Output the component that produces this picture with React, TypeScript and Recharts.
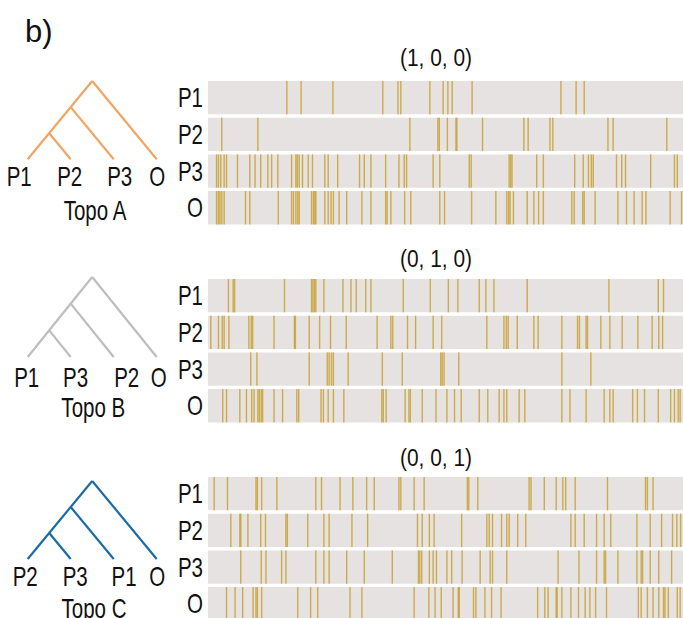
import { ScatterChart, Scatter, XAxis, YAxis, ReferenceArea } from "recharts"

const ROWS = ["P1", "P2", "P3", "O"]
const TITLES = ["(1, 0, 0)", "(0, 1, 0)", "(0, 0, 1)"]
const TOPO_NAMES = ["Topo A", "Topo B", "Topo C"]
const TOPO_LEAVES = [
  ["P1", "P2", "P3", "O"],
  ["P1", "P3", "P2", "O"],
  ["P2", "P3", "P1", "O"],
]
const TOPO_COLORS = ["#F4A462", "#BEBEBE", "#1A6CA7"]

/* ladder tree: leaves at x = 0..3, y = node depth */
const BRANCHES = [
  [{ x: 1.5, y: 1.5 }, { x: 0, y: 0 }],
  [{ x: 0.5, y: 0.5 }, { x: 1, y: 0 }],
  [{ x: 1, y: 1 }, { x: 2, y: 0 }],
  [{ x: 1.5, y: 1.5 }, { x: 3, y: 0 }],
]

/* site positions along the alignment (% of length) */
const A_P1 = [16.6, 19.6, 26.3, 36.8, 40.0, 40.6, 46.7, 49.5, 50.5, 51.4, 55.6, 74.3, 77.5, 79.2]
const A_P2 = [2.9, 10.5, 42.5, 48.4, 48.7, 50.4, 52.2, 52.4, 57.8, 66.5, 67.4, 72.0, 72.6, 84.2, 85.3, 96.6]
const A_P3 = [1.8, 2.2, 2.7, 3.4, 3.9, 6.2, 8.8, 9.9, 11.1, 12.6, 13.4, 14.7, 17.6, 18.5, 18.8, 19.2, 19.9, 21.1,
  22.0, 24.6, 25.3, 27.3, 31.9, 32.9, 34.3, 37.4, 40.2, 41.3, 41.8, 47.4, 48.8, 55.0, 55.4, 63.4, 63.7, 64.0,
  69.2, 70.6, 77.2, 79.0, 80.1, 80.7, 81.1, 86.0, 87.1, 87.9, 93.2, 98.2, 98.8]
const A_O = [1.8, 2.2, 2.5, 2.9, 3.4, 7.9, 8.8, 14.8, 17.6, 18.0, 18.5, 18.9, 19.2, 21.8, 22.2, 22.5, 22.7, 24.6,
  25.3, 25.9, 26.4, 27.6, 29.2, 32.4, 34.3, 37.4, 37.7, 38.5, 41.4, 42.7, 48.8, 49.8, 55.5, 60.6, 62.9, 63.3,
  63.6, 64.3, 67.2, 68.6, 69.6, 70.6, 76.6, 77.1, 78.9, 79.2, 81.5, 86.3, 88.1, 89.7, 91.4, 92.2, 97.3, 99.7]

const B_P1 = [4.3, 5.3, 5.6, 16.1, 21.8, 22.1, 22.4, 22.7, 24.4, 28.4, 30.1, 31.2, 33.2, 34.3, 41.1, 46.8, 50.6,
  52.6, 57.1, 58.5, 60.2, 67.2, 84.4, 94.8, 95.9]
const B_P2 = [0.6, 2.2, 3.0, 3.4, 4.4, 8.6, 9.1, 9.4, 13.9, 18.2, 18.4, 21.3, 23.5, 25.8, 29.1, 35.6, 38.5, 38.9,
  42.0, 43.7, 47.4, 49.2, 58.7, 62.3, 62.8, 63.2, 65.1, 68.6, 69.5, 74.5, 77.8, 78.2, 79.6, 79.9, 82.7, 84.6,
  87.2, 90.5, 93.5, 94.9, 95.7]
const B_P3 = [9.0, 10.3, 21.3, 25.1, 25.5, 26.0, 26.4, 29.5, 36.7, 40.9, 49.0, 49.3, 49.7, 52.8, 74.5, 80.6]
const B_O = [3.1, 3.9, 6.7, 8.1, 9.2, 9.7, 10.5, 10.8, 11.2, 11.5, 13.9, 15.7, 18.7, 19.1, 23.8, 24.3, 25.3, 26.4,
  28.6, 36.6, 36.9, 37.5, 41.5, 42.3, 42.6, 45.1, 48.0, 50.3, 51.9, 53.3, 57.1, 58.9, 61.3, 62.3, 62.9, 65.5,
  66.7, 74.5, 76.2, 79.6, 83.4, 84.6, 85.3, 89.4, 90.4, 91.9, 94.8, 97.4, 98.2, 99.0, 99.4]

const C_P1 = [1.3, 4.1, 10.1, 10.4, 11.3, 14.5, 22.7, 23.9, 27.8, 30.5, 33.4, 35.0, 40.2, 40.6, 43.4, 45.5, 54.6,
  54.9, 56.8, 67.6, 68.0, 70.8, 73.3, 74.7, 75.3, 77.3, 84.1, 92.1, 92.5, 93.7]
const C_P2 = [4.8, 6.7, 6.9, 8.4, 11.1, 12.1, 16.4, 16.7, 21.0, 24.4, 25.5, 30.3, 33.6, 44.1, 45.1, 46.6, 47.6,
  53.4, 58.7, 59.2, 59.9, 61.8, 62.9, 63.4, 65.2, 66.9, 76.4, 77.3, 79.2, 81.8, 83.4, 84.8, 90.3, 93.1, 95.5,
  97.8, 98.7, 99.5]
const C_P3 = [6.9, 11.2, 12.2, 15.5, 16.4, 22.7, 24.4, 25.5, 29.2, 32.9, 38.8, 44.3, 44.6, 45.0, 46.6, 47.4, 48.1,
  50.3, 51.3, 53.5, 57.3, 59.4, 59.9, 62.9, 73.7, 78.1, 81.8, 83.4, 83.7, 86.3, 90.3, 91.2, 91.5, 93.1, 94.9, 97.6]
const C_O = [3.9, 5.7, 7.3, 9.5, 10.1, 10.4, 11.3, 18.9, 21.6, 23.1, 29.9, 32.4, 43.4, 46.5, 47.8, 49.1, 51.6,
  52.7, 52.9, 55.9, 56.4, 58.3, 59.7, 61.7, 69.4, 70.9, 71.6, 73.3, 73.5, 74.5, 76.4, 78.0, 79.4, 80.4, 81.6,
  83.9, 90.6, 91.2, 92.5, 93.7, 94.9, 95.9, 96.2, 96.9, 98.8, 99.4]

const PANELS = [
  [A_P1, A_P2, A_P3, A_O],
  [B_P1, B_P2, B_P3, B_O],
  [C_P1, C_P2, C_P3, C_O],
]

/* layout */
const FONT = "'Liberation Sans', Arial, sans-serif"
const GAP = 0.092
const STRIP_TOP = [81, 279, 477]
const STRIP_PLOT_H = 146.8
const ROW_PX = (STRIP_PLOT_H / 4) * (1 - GAP)
const TREE_APEX = [81, 276.7, 481]
const TREE_H = [78.3, 80, 78]
const LEAF_DY = [27, 29.6, 27.3]
const LEAF_DX = [
  [-8.5, -1, 6, 0.6],
  [-1, 4.8, 13, 2],
  [-2.5, 4.5, 10.4, 0.6],
]
const TOPO_DY = [60.3, 59.6, 58.6]
const TOPO_DX = [2.8, 1.1, 1.8]
const TITLE_BASE = [66, 267, 465.5]

const rowCenter = (i: number) => 4 - i - (1 - GAP) / 2

function NarrowText({ x, y, anchor = "middle", children }: any) {
  return (
    <text transform={`translate(${x},${y}) scale(0.76,1)`} textAnchor={anchor}
      fontSize={27} fontFamily={FONT} fill="#111">
      {children}
    </text>
  )
}

function RowTick(props: any) {
  const i = Math.round(4 - (1 - GAP) / 2 - props.payload.value)
  return <NarrowText x={props.x} y={props.y + 9.6} anchor="end">{ROWS[i]}</NarrowText>
}

function SiteMark(props: any) {
  return (
    <rect x={props.cx - 0.7} y={props.cy - ROW_PX / 2} width={1.4} height={ROW_PX}
      fill="#C7A131" fillOpacity={0.85} />
  )
}

function Strips({ k }: { k: number }) {
  const rows = PANELS[k]
  return (
    <div style={{ position: "absolute", left: 160, top: STRIP_TOP[k] - 5 }}>
      <ScatterChart width={523} height={STRIP_PLOT_H + 10} margin={{ top: 5, right: 0, bottom: 5, left: 0 }}>
        <XAxis type="number" dataKey="x" domain={[0, 100]} hide />
        <YAxis type="number" dataKey="y" domain={[0, 4]} ticks={ROWS.map((_, i) => rowCenter(i))}
          interval={0} width={48} axisLine={false} tickLine={false} tickSize={0} tickMargin={5}
          tick={<RowTick />} />
        {ROWS.map((r, i) => (
          <ReferenceArea key={r} x1={0} x2={100} y1={3 - i + GAP} y2={4 - i}
            fill="#E7E2E2" fillOpacity={1} stroke="none" />
        ))}
        {rows.map((vals, i) => (
          <Scatter key={i} data={vals.map(v => ({ x: v, y: rowCenter(i) }))}
            shape={SiteMark} isAnimationActive={false} />
        ))}
      </ScatterChart>
    </div>
  )
}

function TopoLabel(props: any) {
  const k = props.k
  const vb = props.viewBox
  return (
    <NarrowText x={vb.x + vb.width / 2 + TOPO_DX[k]} y={vb.y + TOPO_DY[k]}>
      {TOPO_NAMES[k]}
    </NarrowText>
  )
}

function Tree({ k }: { k: number }) {
  const h = TREE_H[k]
  const LeafTick = (props: any) => {
    const i = Math.round(props.payload.value)
    return (
      <NarrowText x={props.x + LEAF_DX[k][i]} y={props.y + LEAF_DY[k]}>
        {TOPO_LEAVES[k][i]}
      </NarrowText>
    )
  }
  return (
    <div style={{ position: "absolute", left: 0, top: TREE_APEX[k] - 10 }}>
      <ScatterChart width={200} height={10 + h + 70}
        margin={{ top: 10, right: 200 - 27.7 - 129, bottom: 0, left: 27.7 }}>
        <XAxis type="number" dataKey="x" domain={[0, 3]} ticks={[0, 1, 2, 3]} interval={0}
          height={70} axisLine={false} tickLine={false} tickSize={0} tickMargin={0}
          tick={LeafTick} label={<TopoLabel k={k} />} />
        <YAxis type="number" dataKey="y" domain={[0, 1.5]} hide />
        {BRANCHES.map((b, i) => (
          <Scatter key={i} data={b} line={{ stroke: TOPO_COLORS[k], strokeWidth: 2.2 }}
            shape={() => <g />} isAnimationActive={false} />
        ))}
      </ScatterChart>
    </div>
  )
}

export default function App() {
  return (
    <div style={{ position: "absolute", left: 0, top: 0, width: 683, height: 618, overflow: "hidden", background: "#fff" }}>
      <svg width={683} height={618} style={{ position: "absolute", left: 0, top: 0 }}>
        <text x={25} y={42} fontSize={31} fontFamily={FONT} fill="#111">b)</text>
        {TITLES.map((t, k) => (
          <text key={t} transform={`translate(436,${TITLE_BASE[k]}) scale(0.95,1.1)`} fontSize={22}
            textAnchor="middle" fontFamily={FONT} fill="#111">{t}</text>
        ))}
      </svg>
      {[0, 1, 2].map(k => <Tree key={`t${k}`} k={k} />)}
      {[0, 1, 2].map(k => <Strips key={`s${k}`} k={k} />)}
    </div>
  )
}
